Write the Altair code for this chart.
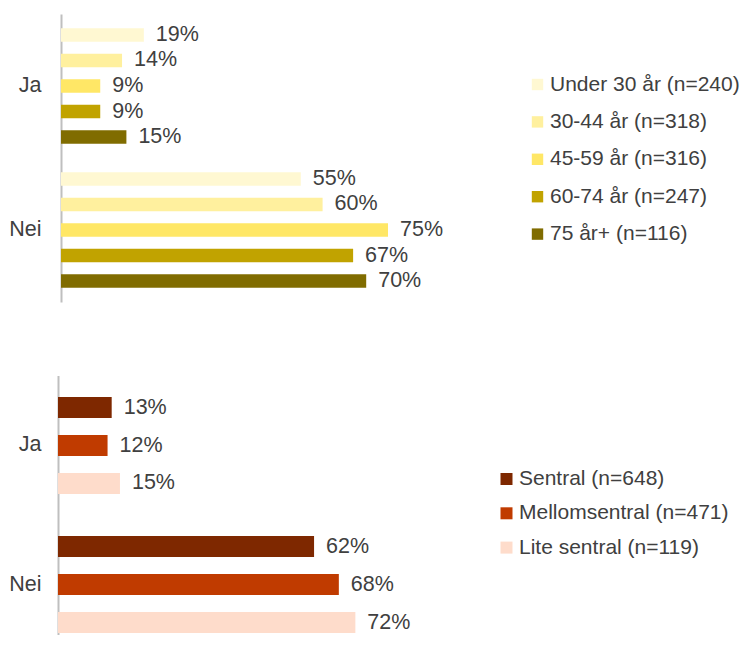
import altair as alt
import pandas as pd

answers = ["Ja", "Nei"]

age_groups = ["Under 30 år (n=240)", "30-44 år (n=318)", "45-59 år (n=316)",
              "60-74 år (n=247)", "75 år+ (n=116)"]
age_ja = [19, 14, 9, 9, 15]
age_nei = [55, 60, 75, 67, 70]
age_colors = ["#FFF8D2", "#FFF09E", "#FFE766", "#C1A300", "#806C00"]

central_groups = ["Sentral (n=648)", "Mellomsentral (n=471)", "Lite sentral (n=119)"]
central_ja = [13, 12, 15]
central_nei = [62, 68, 72]
central_colors = ["#7E2800", "#C03B00", "#FEDCCB"]

FONT = "Liberation Sans"
TEXT_COLOR = "#404040"


def make_df(groups, ja, nei):
    rows = []
    for ans, vals in zip(answers, [ja, nei]):
        for g, v in zip(groups, vals):
            rows.append({"answer": ans, "series": g, "value": v, "label": f"{v}%"})
    return pd.DataFrame(rows)


def panel(df, groups, colors, width, height, y_pi, off_scale, label_pad, label_off,
          axis_offset, x_range, legend_x, legend_y, row_pad, sym_size):
    base = alt.Chart(df).encode(
        y=alt.Y("answer:N", sort=answers,
                scale=alt.Scale(paddingInner=y_pi, paddingOuter=0),
                axis=alt.Axis(title=None, ticks=False, labelPadding=label_pad,
                              labelOffset=label_off, offset=axis_offset,
                              labelFontSize=21.5, labelFont=FONT, labelColor=TEXT_COLOR,
                              domainColor="#BFBFBF", domainWidth=2)),
        yOffset=alt.YOffset("series:N", sort=groups, scale=off_scale),
        x=alt.X("value:Q", scale=alt.Scale(domain=[0, 100], range=x_range), axis=None),
    )
    bars = base.mark_bar().encode(
        color=alt.Color("series:N", sort=groups,
                        scale=alt.Scale(domain=groups, range=colors),
                        legend=alt.Legend(title=None, orient="none",
                                          legendX=legend_x, legendY=legend_y,
                                          symbolType="square", symbolSize=sym_size,
                                          symbolStrokeWidth=0,
                                          labelFontSize=21, labelFont=FONT,
                                          labelColor=TEXT_COLOR, labelLimit=400,
                                          labelOffset=2, rowPadding=row_pad))
    )
    text = base.mark_text(align="left", baseline="middle", dx=12,
                          fontSize=21.5, font=FONT, color=TEXT_COLOR).encode(
        text="label:N")
    return alt.layer(bars, text).properties(width=width, height=height)


top = panel(make_df(age_groups, age_ja, age_nei), age_groups, age_colors,
            436, 288, 0, alt.Scale(paddingOuter=0.558, paddingInner=0.47),
            20, 0, 0, [0, 436], 466, 60, 15.4, 130)
bottom = panel(make_df(central_groups, central_ja, central_nei), central_groups,
               central_colors, 413, 259, 0.137,
               alt.Scale(range=[21.5, 118.5], paddingOuter=0, paddingInner=0.447),
               17, 10, 3, [-3, 410], 435, 93, 12.3, 144)

chart = alt.vconcat(top, bottom, spacing=73.5).resolve_scale(
    color="independent", x="independent", y="independent", yOffset="independent"
).properties(
    padding={"left": 0, "top": 6, "right": 0, "bottom": 0}
).configure_view(stroke=None)

chart.save("out.html", embed_options={"renderer": "svg", "actions": False})
